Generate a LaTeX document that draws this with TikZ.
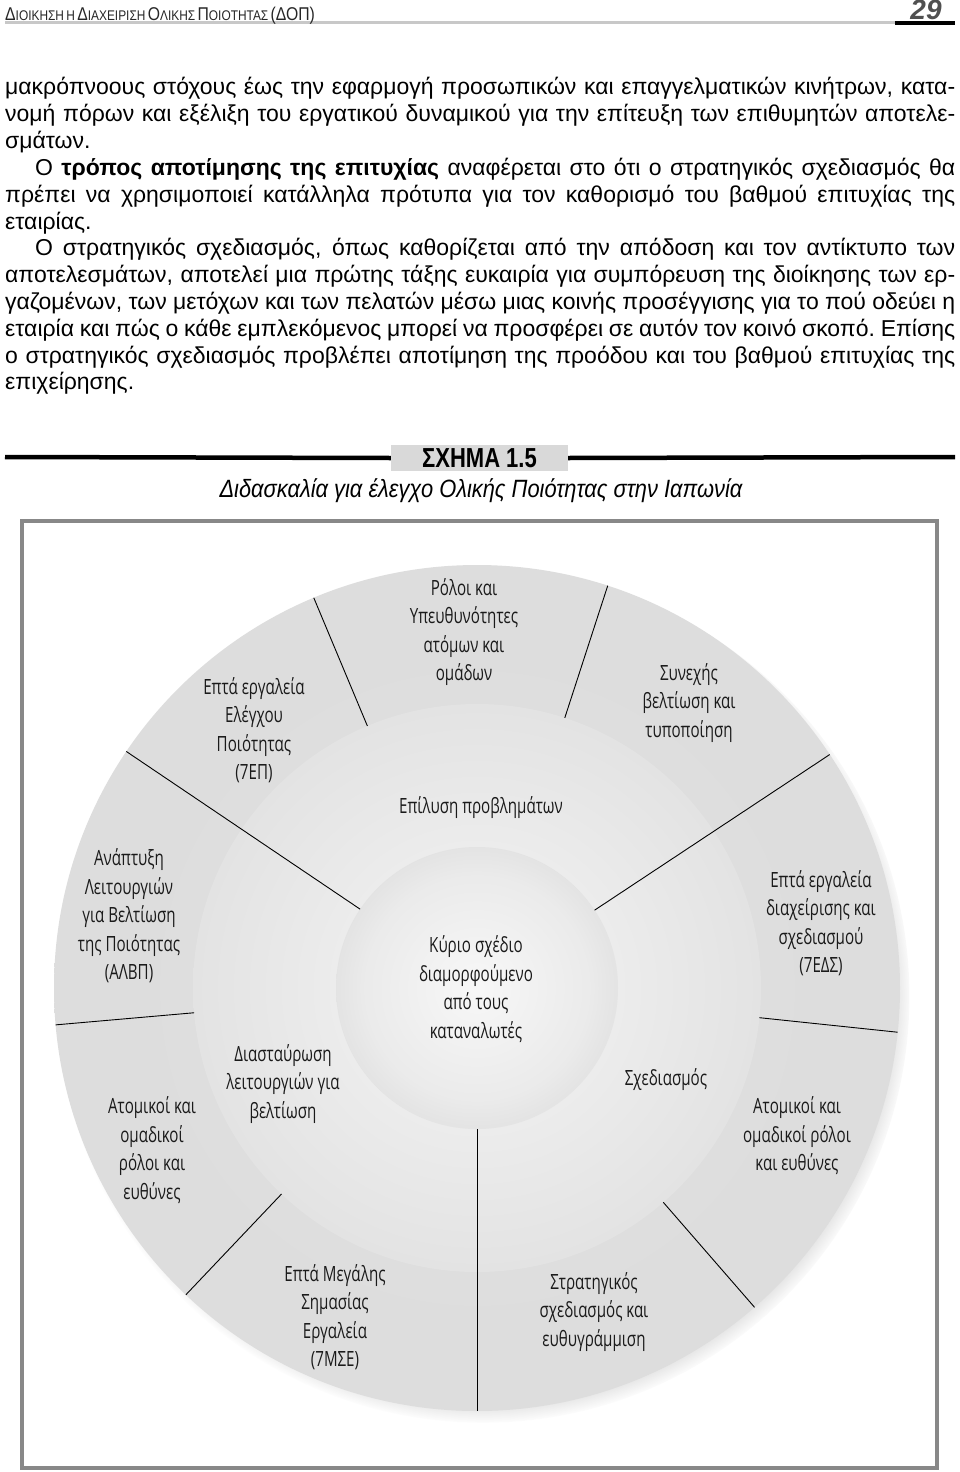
\documentclass[tikz,border=0pt]{standalone}
\usepackage{fontspec}
\setmainfont{Liberation Sans}
\newfontfamily\hdrfont[FakeStretch=0.85]{Liberation Sans}
\newfontfamily\figfont[FakeStretch=0.8]{Liberation Sans}
\newfontfamily\subfont[FakeStretch=0.875]{Liberation Sans}
\newfontfamily\diafont[FakeStretch=0.72]{Open Sans}
\usetikzlibrary{shadows}
\definecolor{boxgray}{HTML}{888888}
\definecolor{titlegray}{HTML}{D9D9D9}
\definecolor{hdrline}{HTML}{C8C8C8}
\definecolor{diatext}{HTML}{1A1A1A}
\definecolor{pagenum}{HTML}{505050}
\pgfdeclareradialshading{outershade}{\pgfpointorigin}{rgb(0bp)=(0.88,0.88,0.88); rgb(33bp)=(0.86,0.86,0.86); rgb(45bp)=(0.82,0.82,0.82); rgb(50bp)=(0.74,0.74,0.74)}
\pgfdeclareradialshading{midshade}{\pgfpointorigin}{rgb(0bp)=(0.96,0.96,0.96); rgb(25bp)=(0.89,0.89,0.89); rgb(50bp)=(0.84,0.84,0.84)}
\pgfdeclareradialshading{innershade}{\pgfpointorigin}{rgb(0bp)=(0.97,0.97,0.97); rgb(20bp)=(0.92,0.92,0.92); rgb(50bp)=(0.75,0.75,0.75)}
\newcommand\hsc[2]{{\fontsize{18.5}{18.5}\selectfont #1}{\fontsize{14}{14}\selectfont #2}}
\begin{document}
\begin{tikzpicture}[x=1pt,y=-1pt,
  bodyline/.style={anchor=base west, inner sep=0pt, font=\fontsize{23}{27}\selectfont},
  dialabel/.style={align=center, inner sep=0pt, text=diatext, font=\diafont\fontsize{21}{28.5}\selectfont},
  divider/.style={line width=0.9pt, black}]
\useasboundingbox (0,0) rectangle (960,1472);
\fill[white] (0,0) rectangle (960,1472);
% header
\draw[hdrline, line width=3pt] (5,23) -- (895,23);
\draw[black, line width=4pt] (895,23) -- (955,23);
\node[anchor=base west, inner sep=0pt, text=black!85, font=\hdrfont] (hdr) at (5,21)
  {\hsc{Δ}{ΙΟΙΚΗΣΗ} \hsc{}{Η} \hsc{Δ}{ΙΑΧΕΙΡΙΣΗ} \hsc{Ο}{ΛΙΚΗΣ} \hsc{Π}{ΟΙΟΤΗΤΑΣ} \hsc{(ΔΟΠ)}{}};
\node[anchor=base, inner sep=0pt, text=pagenum, font=\fontsize{28}{28}\selectfont\bfseries\itshape] (pn) at (926,20) {29};
% body text
\node[bodyline] (l1) at (5,95) {\makebox[950pt][s]{μακρόπνοους στόχους έως την εφαρμογή προσωπικών και επαγγελματικών κινήτρων, κατα-}};
\node[bodyline] (l2) at (5,121.8) {\makebox[950pt][s]{νομή πόρων και εξέλιξη του εργατικού δυναμικού για την επίτευξη των επιθυμητών αποτελε-}};
\node[bodyline] (l3) at (5,148.6) {σμάτων.};
\node[bodyline] (l4) at (35,175.4) {\makebox[920pt][s]{Ο \textbf{τρόπος αποτίμησης της επιτυχίας} αναφέρεται στο ότι ο στρατηγικός σχεδιασμός θα}};
\node[bodyline] (l5) at (5,202.2) {\makebox[950pt][s]{πρέπει να χρησιμοποιεί κατάλληλα πρότυπα για τον καθορισμό του βαθμού επιτυχίας της}};
\node[bodyline] (l6) at (5,229) {εταιρίας.};
\node[bodyline] (l7) at (35,255.8) {\makebox[920pt][s]{Ο στρατηγικός σχεδιασμός, όπως καθορίζεται από την απόδοση και τον αντίκτυπο των}};
\node[bodyline] (l8) at (5,282.6) {\makebox[950pt][s]{αποτελεσμάτων, αποτελεί μια πρώτης τάξης ευκαιρία για συμπόρευση της διοίκησης των ερ-}};
\node[bodyline] (l9) at (5,309.4) {\makebox[950pt][s]{γαζομένων, των μετόχων και των πελατών μέσω μιας κοινής προσέγγισης για το πού οδεύει η}};
\node[bodyline] (l10) at (5,336.2) {\makebox[950pt][s]{εταιρία και πώς ο κάθε εμπλεκόμενος μπορεί να προσφέρει σε αυτόν τον κοινό σκοπό.\ Επίσης}};
\node[bodyline] (l11) at (5,363) {\makebox[950pt][s]{ο στρατηγικός σχεδιασμός προβλέπει αποτίμηση της προόδου και του βαθμού επιτυχίας της}};
\node[bodyline] (l12) at (5,389.8) {επιχείρησης.};
% figure title
\node[fill=titlegray, minimum width=177pt, minimum height=26pt, inner sep=0pt, font=\figfont\bfseries\fontsize{27.5}{27.5}\selectfont] (title) at (479.5,458) {ΣΧΗΜΑ 1.5};
\draw[line width=4.5pt] (5,457) -- (title.west);
\draw[line width=4.5pt] (title.east) -- (955,457);
\node[inner sep=0pt, font=\subfont\itshape\fontsize{25}{25}\selectfont] (subtitle) at (481,491) {Διδασκαλία για έλεγχο Ολικής Ποιότητας στην Ιαπωνία};
% frame
\draw[boxgray, line width=4pt] (22,521) rectangle (937,1468);
% diagram
\coordinate (C) at (477,988);
\shade[circular drop shadow={shadow xshift=7pt, shadow yshift=-7pt, opacity=0.75, shadow scale=1.01}, shading=outershade] (C) circle (423pt);
\shade[shading=midshade] (C) circle (284pt);
\shade[shading=innershade] (C) circle (141pt);
% dividers
\foreach \a in {72,112.7,185,354,226.5,311}
  \draw[divider] ([shift={(C)}]\a:284pt) -- ([shift={(C)}]\a:423pt);
\foreach \a in {33.5,146,270}
  \draw[divider] ([shift={(C)}]\a:141pt) -- ([shift={(C)}]\a:423pt);
% labels
\node[dialabel] (roles) at (464,632) {Ρόλοι και\\Υπευθυνότητες\\ατόμων και\\ομάδων};
\node[dialabel] (sevenqc) at (254,730) {Επτά εργαλεία\\Ελέγχου\\Ποιότητας\\(7ΕΠ)};
\node[dialabel] (kaizen) at (689,703) {Συνεχής\\βελτίωση και\\τυποποίηση};
\node[dialabel] (solve) at (481,808) {Επίλυση προβλημάτων};
\node[dialabel] (qfd) at (129,916) {Ανάπτυξη\\Λειτουργιών\\για Βελτίωση\\της Ποιότητας\\(ΑΛΒΠ)};
\node[dialabel] (sevenmp) at (821,923) {Επτά εργαλεία\\διαχείρισης και\\σχεδιασμού\\(7ΕΔΣ)};
\node[dialabel] (core) at (476,989) {Κύριο σχέδιο\\διαμορφούμενο\\από τους\\καταναλωτές};
\node[dialabel] (cross) at (283,1084) {Διασταύρωση\\λειτουργιών για\\βελτίωση};
\node[dialabel] (plan) at (666,1080) {Σχεδιασμός};
\node[dialabel] (indl) at (152,1150) {Ατομικοί και\\ομαδικοί\\ρόλοι και\\ευθύνες};
\node[dialabel] (indr) at (797,1136) {Ατομικοί και\\ομαδικοί ρόλοι\\και ευθύνες};
\node[dialabel] (sevenmt) at (335,1317) {Επτά Μεγάλης\\Σημασίας\\Εργαλεία\\(7ΜΣΕ)};
\node[dialabel] (strat) at (594,1312) {Στρατηγικός\\σχεδιασμός και\\ευθυγράμμιση};
\end{tikzpicture}
\end{document}
